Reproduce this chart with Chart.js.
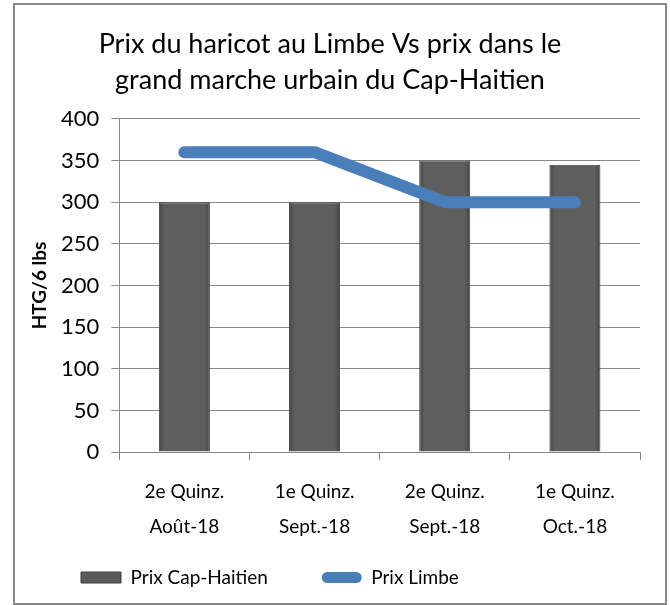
<!DOCTYPE html>
<html>
<head>
<meta charset="utf-8">
<script src="https://cdn.jsdelivr.net/npm/chart.js@4/dist/chart.umd.min.js"></script>
<style>
  body { margin: 0; background: #fff; }
  .box { position: absolute; left: 13px; top: 3px; width: 650px; height: 598px; border: 2px solid #878787; }
  canvas { display: block; }
</style>
</head>
<body>
<div class="box"><canvas id="chart" width="650" height="598"></canvas></div>
<script>
const categories = [
  ['2e Quinz.', 'Août-18'],
  ['1e Quinz.', 'Sept.-18'],
  ['2e Quinz.', 'Sept.-18'],
  ['1e Quinz.', 'Oct.-18']
];
const prixCapHaitien = [300, 300, 350, 345];
const prixLimbe = [360, 360, 300, 300];
const titleLines = ['Prix du haricot au Limbe Vs prix dans le', 'grand marche urbain du Cap-Haitien'];

const FONT = 'Lato, "Open Sans", sans-serif';

function barFill(ctx) {
  const chart = ctx.chart;
  if (!chart.chartArea || ctx.dataIndex === undefined) return '#5a5a5a';
  const x = chart.scales.x.getPixelForValue(ctx.dataIndex);
  const g = chart.ctx.createLinearGradient(x - 26, 0, x + 26, 0);
  g.addColorStop(0, '#454545');
  g.addColorStop(0.12, '#5e5e5e');
  g.addColorStop(0.88, '#5e5e5e');
  g.addColorStop(1, '#454545');
  return g;
}

// the legend in the original sits left of centre
const legendShift = {
  id: 'legendShift',
  afterLayout(chart) {
    chart.legend.left = 56;
  }
};

const chart = new Chart(document.getElementById('chart').getContext('2d'), {
  type: 'bar',
  data: {
    labels: categories,
    datasets: [
      {
        type: 'bar',
        label: 'Prix Cap-Haitien',
        data: prixCapHaitien,
        backgroundColor: barFill,
        borderColor: '#3f3f3f',
        borderWidth: 1,
        barPercentage: 0.8,
        categoryPercentage: 0.49,
        order: 2
      },
      {
        type: 'line',
        label: 'Prix Limbe',
        data: prixLimbe,
        borderColor: '#4a7ebb',
        backgroundColor: '#4a7ebb',
        borderWidth: 12,
        borderCapStyle: 'round',
        borderJoinStyle: 'round',
        pointRadius: 0,
        tension: 0,
        fill: false,
        order: 1
      }
    ]
  },
  plugins: [legendShift],
  options: {
    animation: false,
    responsive: false,
    layout: { padding: { left: 5, right: 25, top: 6, bottom: 6 } },
    plugins: {
      tooltip: { enabled: false },
      title: {
        display: true,
        text: titleLines,
        color: '#000',
        font: { family: FONT, size: 27, weight: 'normal', lineHeight: 1.35 },
        padding: { top: 15, bottom: 20 }
      },
      legend: {
        position: 'bottom',
        align: 'start',
        labels: {
          color: '#000',
          font: { family: FONT, size: 19 },
          boxWidth: 40,
          boxHeight: 11,
          padding: 10,
          useBorderRadius: true,
          generateLabels: (c) => c.data.datasets.map((ds, i) => ({
            text: ds.label + (i === 0 ? '         ' : ''),
            fillStyle: i === 0 ? '#5a5a5a' : '#4a7ebb',
            strokeStyle: i === 0 ? '#3f3f3f' : '#4a7ebb',
            lineWidth: i === 0 ? 1 : 0,
            borderRadius: i === 0 ? 0 : 5.5,
            datasetIndex: i
          }))
        }
      }
    },
    scales: {
      x: {
        grid: { drawOnChartArea: false, drawTicks: true, tickLength: 8, color: '#888', offset: true },
        border: { color: '#888', width: 1 },
        ticks: { color: '#000', font: { family: FONT, size: 19, lineHeight: 1.84 }, padding: 14, maxRotation: 0 }
      },
      y: {
        min: 0,
        max: 400,
        ticks: { stepSize: 50, color: '#000', font: { family: FONT, size: 22 }, padding: 12 },
        grid: { color: '#888', lineWidth: 1, tickLength: 8 },
        border: { color: '#888', width: 1 },
        title: {
          display: true,
          text: 'HTG/6 lbs',
          color: '#000',
          font: { family: FONT, size: 19, weight: 'bold', lineHeight: 1 },
          padding: { top: 10, bottom: 0 }
        }
      }
    }
  }
});
</script>
</body>
</html>
